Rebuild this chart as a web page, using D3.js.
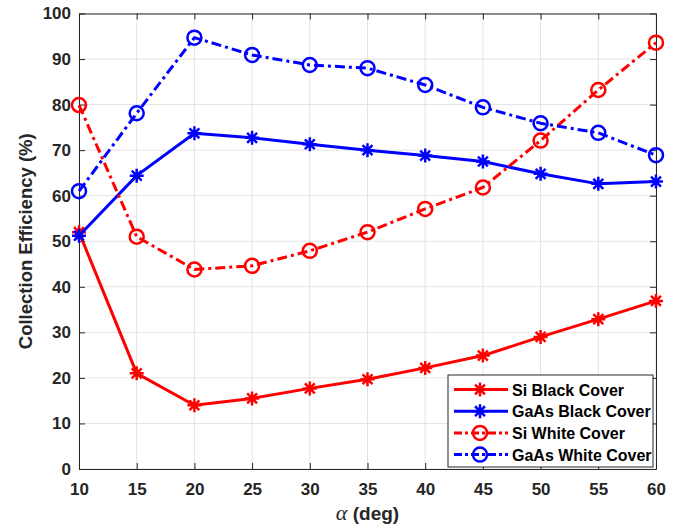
<!DOCTYPE html>
<html>
<head>
<meta charset="utf-8">
<script src="https://cdn.jsdelivr.net/npm/d3@7"></script>
<style>
  body { margin: 0; background: #fff; }
  text { font-family: "Liberation Sans", Arial, sans-serif; }
</style>
</head>
<body>
<div id="chart"></div>
<script>
// Data
const angles = [10, 15, 20, 25, 30, 35, 40, 45, 50, 55, 60];
const siBlack = [52.0, 21.0, 14.0, 15.5, 17.7, 19.7, 22.2, 24.9, 29.0, 32.9, 36.9];
const gaasBlack = [51.2, 64.4, 73.7, 72.7, 71.3, 70.0, 68.8, 67.5, 64.8, 62.6, 63.1];
const siWhite = [79.9, 51.0, 43.8, 44.6, 47.9, 52.0, 57.1, 61.8, 72.1, 83.2, 93.6];
const gaasWhite = [61.0, 78.1, 94.7, 90.9, 88.7, 88.0, 84.3, 79.4, 75.9, 73.8, 68.9];
const yTicks = [0, 10, 20, 30, 40, 50, 60, 70, 80, 90, 100];

const series = [
  { name: "Si Black Cover", values: siBlack, color: "#ff0000", dash: null, marker: "star" },
  { name: "GaAs Black Cover", values: gaasBlack, color: "#0000ff", dash: null, marker: "star" },
  { name: "Si White Cover", values: siWhite, color: "#ff0000", dash: "10,4,3,4", marker: "circle" },
  { name: "GaAs White Cover", values: gaasWhite, color: "#0000ff", dash: "10,4,3,4", marker: "circle" }
];

const margin = { top: 13.5, right: 34, bottom: 58, left: 79 };
const width = 690 - margin.left - margin.right;
const height = 527 - margin.top - margin.bottom;

const svg = d3.select("#chart")
  .append("svg")
    .attr("width", 690)
    .attr("height", 527)
  .append("g")
    .attr("transform", `translate(${margin.left},${margin.top})`);

const x = d3.scaleLinear().domain([10, 60]).range([0, width]);
const y = d3.scaleLinear().domain([0, 100]).range([height, 0]);

// Grid
svg.append("g")
  .selectAll("line")
  .data(angles)
  .enter().append("line")
    .attr("x1", d => x(d)).attr("x2", d => x(d))
    .attr("y1", 0).attr("y2", height)
    .attr("stroke", "#e3e3e3").attr("stroke-width", 1);
svg.append("g")
  .selectAll("line")
  .data(yTicks)
  .enter().append("line")
    .attr("x1", 0).attr("x2", width)
    .attr("y1", d => y(d)).attr("y2", d => y(d))
    .attr("stroke", "#e3e3e3").attr("stroke-width", 1);

// Axes (MATLAB style: ticks inward on all sides)
function styleAxis(g) {
  g.select(".domain").attr("stroke", "#262626").attr("stroke-width", 1);
  g.selectAll(".tick line").attr("stroke", "#262626");
  g.selectAll(".tick text")
    .attr("fill", "#262626")
    .style("font-size", "17px")
    .style("font-weight", "bold");
}

svg.append("g")
  .attr("transform", `translate(0,${height})`)
  .call(d3.axisBottom(x).tickValues(angles).tickSize(-6).tickPadding(14).tickSizeOuter(0))
  .call(styleAxis);
svg.append("g")
  .call(d3.axisTop(x).tickValues(angles).tickSize(-6).tickFormat("").tickSizeOuter(0))
  .call(styleAxis);
svg.append("g")
  .call(d3.axisLeft(y).tickValues(yTicks).tickSize(-6).tickPadding(8).tickSizeOuter(0))
  .call(styleAxis);
svg.append("g")
  .attr("transform", `translate(${width},0)`)
  .call(d3.axisRight(y).tickValues(yTicks).tickSize(-6).tickFormat("").tickSizeOuter(0))
  .call(styleAxis);

// Lines
const line = d3.line()
  .x((d, i) => x(angles[i]))
  .y(d => y(d));

const starPath = (r) => {
  let p = "";
  for (let k = 0; k < 4; k++) {
    const a = k * Math.PI / 4;
    const dx = r * Math.cos(a), dy = r * Math.sin(a);
    p += `M${-dx},${-dy}L${dx},${dy}`;
  }
  return p;
};

series.forEach(s => {
  svg.append("path")
    .datum(s.values)
    .attr("fill", "none")
    .attr("stroke", s.color)
    .attr("stroke-width", 3)
    .attr("stroke-dasharray", s.dash)
    .attr("d", line);

  const m = svg.append("g").selectAll("g")
    .data(s.values)
    .enter().append("g")
      .attr("transform", (d, i) => `translate(${x(angles[i])},${y(d)})`);
  if (s.marker === "circle") {
    m.append("circle")
      .attr("r", 7)
      .attr("fill", "none")
      .attr("stroke", s.color)
      .attr("stroke-width", 2.5);
  } else {
    m.append("path")
      .attr("d", starPath(7))
      .attr("stroke", s.color)
      .attr("stroke-width", 2.5);
  }
});

// Axis labels
svg.append("text")
  .attr("transform", `translate(${-47},${height / 2}) rotate(-90)`)
  .attr("text-anchor", "middle")
  .attr("fill", "#262626")
  .style("font-size", "18.5px")
  .style("font-weight", "bold")
  .text("Collection Efficiency (%)");

const xl = svg.append("text")
  .attr("x", width / 2)
  .attr("y", height + 51)
  .attr("text-anchor", "middle")
  .attr("fill", "#262626")
  .style("font-size", "19px")
  .style("font-weight", "bold");
xl.append("tspan")
  .style("font-family", "'Liberation Serif', 'DejaVu Serif', serif")
  .style("font-style", "italic")
  .style("font-weight", "normal")
  .style("font-size", "22px")
  .text("α");
xl.append("tspan").text(" (deg)");

// Legend
const legW = 205, legH = 92, rowH = 21.7;
const legend = svg.append("g")
  .attr("transform", `translate(${width - legW - 3},${height - legH - 2})`);
legend.append("rect")
  .attr("width", legW).attr("height", legH)
  .attr("fill", "#fff").attr("stroke", "#262626").attr("stroke-width", 1);

series.forEach((s, i) => {
  const g = legend.append("g").attr("transform", `translate(0,${14.5 + i * rowH})`);
  g.append("line")
    .attr("x1", 6).attr("x2", 60).attr("y1", 0).attr("y2", 0)
    .attr("stroke", s.color).attr("stroke-width", 3)
    .attr("stroke-dasharray", s.dash ? "8,3,3,3" : null);
  if (s.marker === "circle") {
    g.append("circle").attr("cx", 32).attr("r", 7)
      .attr("fill", "none").attr("stroke", s.color).attr("stroke-width", 2.5);
  } else {
    g.append("path").attr("transform", "translate(32,0)").attr("d", starPath(7))
      .attr("stroke", s.color).attr("stroke-width", 2.5);
  }
  g.append("text")
    .attr("x", 64).attr("y", 6)
    .attr("fill", "#000")
    .style("font-size", "16px")
    .style("font-weight", "bold")
    .text(s.name);
});
</script>
</body>
</html>
